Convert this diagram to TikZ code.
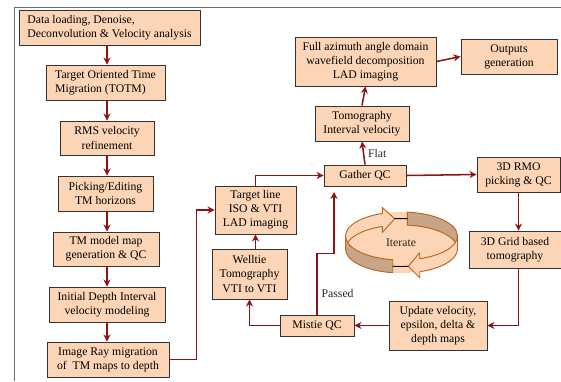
\documentclass[tikz,border=0pt]{standalone}
\usepackage{fontspec}
\setmainfont{Liberation Serif}
\usetikzlibrary{arrows.meta}

\definecolor{boxfill}{HTML}{FBD5B5}
\definecolor{arrowred}{HTML}{8C1414}
\definecolor{ringline}{HTML}{B8661E}
\definecolor{ringdark}{HTML}{C8A587}
\definecolor{framegray}{HTML}{6E6E6E}

\begin{document}
\begin{tikzpicture}[x=0.03cm, y=-0.03cm, font=\fontsize{10}{12}\selectfont,
  box/.style = {draw=black!80, line width=0.8pt, fill=boxfill, align=center, inner sep=2pt},
  arr/.style = {draw=arrowred, line width=1.3pt, -{Stealth[length=6pt,width=6pt]}},
  ring/.style = {draw=ringline, line width=0.8pt, line join=round}]
\useasboundingbox (0,0) rectangle (561,381);
\draw[framegray, line width=0.8pt] (14,381) -- (14,7) -- (561,7);

% left column
\node[box, align=left, minimum width=5.43cm, minimum height=1.05cm] (load) at (109.5,27.5) {Data loading, Denoise,\\Deconvolution \& Velocity analysis};
\node[box, align=left, minimum width=3.57cm, minimum height=1.05cm] (totm) at (105.5,82.5) {Target Oriented Time\\Migration (TOTM)};
\node[box, minimum width=2.82cm, minimum height=1.02cm] (rms) at (107,138) {RMS velocity\\refinement};
\node[box, minimum width=2.85cm, minimum height=1.05cm] (pick) at (105.5,193.5) {Picking/Editing\\TM horizons};
\node[box, minimum width=3.18cm, minimum height=1.02cm] (tmmap) at (106,249) {TM model map\\generation \& QC};
\node[box, minimum width=3.48cm, minimum height=1.05cm] (init) at (107,304.5) {Initial Depth Interval\\velocity modeling};
\node[box, minimum width=3.66cm, minimum height=1.05cm] (iray) at (108,359.5) {Image Ray migration\\of~ TM maps to depth};

% loop part
\node[box, minimum width=2.43cm, minimum height=1.44cm] (target) at (255.5,210) {Target line\\ISO \& VTI\\LAD imaging};
\node[box, minimum width=2.25cm, minimum height=1.5cm] (well) at (249.5,274) {Welltie\\Tomography\\VTI to VTI};
\node[box, minimum width=2.22cm, minimum height=0.63cm] (mistie) at (317,325.5) {Mistie QC};
\node[box, minimum width=2.94cm, minimum height=1.47cm] (update) at (438,325.5) {Update velocity,\\epsilon, delta \&\\depth maps};
\node[box, minimum width=2.76cm, minimum height=1.11cm] (grid) at (515,249.5) {3D Grid based\\tomography};
\node[box, minimum width=2.49cm, minimum height=1.05cm] (rmo) at (518.5,174.5) {3D RMO\\picking \& QC};
\node[box, minimum width=2.46cm, minimum height=0.63cm] (gather) at (365,175.5) {Gather QC};
\node[box, minimum width=2.82cm, minimum height=1.05cm] (tomo) at (362,123.5) {Tomography\\Interval velocity};
\node[box, minimum width=4.23cm, minimum height=1.47cm] (full) at (365.5,61.5) {Full azimuth angle domain\\wavefield decomposition\\LAD imaging};
\node[box, minimum width=2.88cm, minimum height=1.05cm] (out) at (509,56.5) {Outputs\\generation};
\coordinate (pass) at (334,192);

\draw[arr] (load.south -| rms) -- (totm.north -| rms);
\foreach \a/\b in {totm/rms, rms/pick, pick/tmmap, tmmap/init, init/iray}
  \draw[arr] (\a.south -| rms) -- (\b.north -| rms);

\draw[arr] (iray.east) -- ++(27,0) |- (target.west);
\draw[arr] (target.north) |- (gather.west);
\draw[arr] (gather.east) -- (rmo.west);
\draw[arr] (rmo.south) -- (rmo.south |- grid.north);
\draw[arr] (grid.south -| rmo.south) |- (update.east);
\draw[arr] (update.west) -- (mistie.east);
\draw[arr] (mistie.west) -| (well.south);
\draw[arr] (well.north -| target.south) -- (target.south);
\draw[arr] (mistie.north) -- node[right, text=black!85, pos=0.34] {Passed} ++(0,-61) -| (pass);
\draw[arr] (gather.north) -- node[right, text=black!85] {Flat} (tomo.south);
\draw[arr] (tomo.north) -- (full.south);
\draw[arr] (full.east) -- (out.west);

% iterate ring
\fill[boxfill] (401.5,236) ellipse [x radius=56, y radius=24];
\fill[boxfill] (401.5,249) ellipse [x radius=56, y radius=24];
\draw[ring, fill=boxfill] (345.5,236) arc[start angle=180, end angle=250, x radius=56, y radius=24]
  -- (382.35,207.45) -- (394.67,218.7) -- (382.35,232.45) -- (382.35,226.45)
  arc[start angle=250, end angle=180, x radius=56, y radius=24] -- cycle;
\draw[ring, fill=ringdark] (407.35,212.13) arc[start angle=276, end angle=360, x radius=56, y radius=24]
  -- (457.5,249) arc[start angle=360, end angle=276, x radius=56, y radius=24] -- cycle;
\draw[black, line width=0.8pt] (394.67,218.7) arc[start angle=263, end angle=276, x radius=56, y radius=24];
\draw[ring, fill=ringdark] (392.74,259.7) arc[start angle=99, end angle=180, x radius=56, y radius=24]
  -- (345.5,249) arc[start angle=180, end angle=99, x radius=56, y radius=24] -- cycle;
\draw[ring, fill=boxfill] (457.5,236) arc[start angle=0, end angle=71, x radius=56, y radius=24]
  -- (419.73,252.69) -- (408.33,266.3) -- (419.73,277.69) -- (419.73,271.69)
  arc[start angle=71, end angle=0, x radius=56, y radius=24] -- cycle;
\draw[black, line width=0.8pt] (408.33,266.3) arc[start angle=83, end angle=99, x radius=56, y radius=24];
\node[text=black!85] (iter) at (401,243) {Iterate};
\end{tikzpicture}
\end{document}
